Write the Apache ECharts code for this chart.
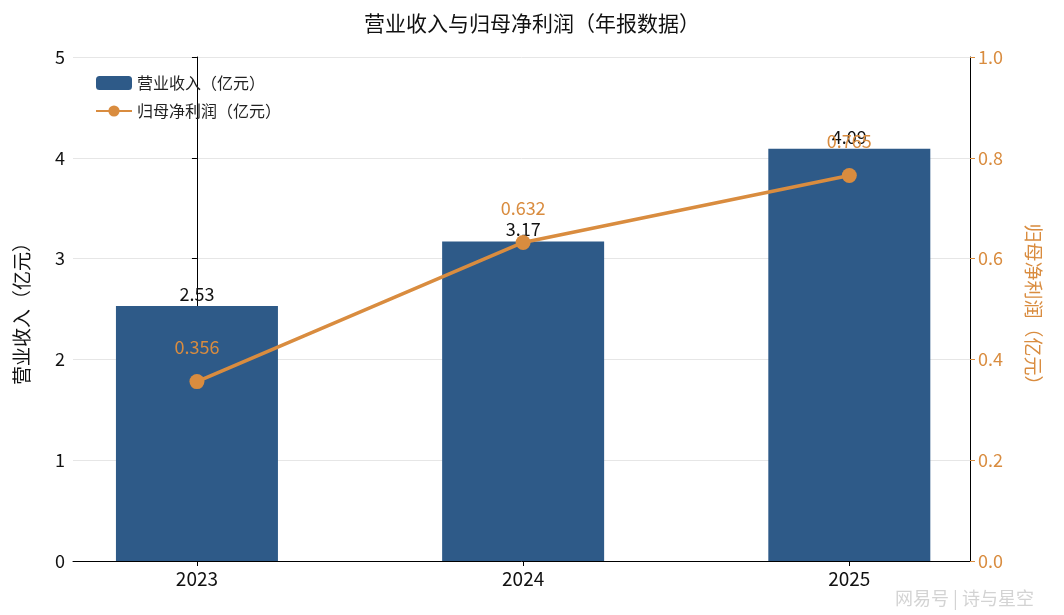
<!DOCTYPE html>
<html><head><meta charset="utf-8">
<script src="https://cdn.jsdelivr.net/npm/echarts@6/dist/echarts.min.js"></script>
<style>body{margin:0}#c{width:1064px;height:615px}</style></head>
<body><div id="c"></div>
<script>
var years = ['2023', '2024', '2025'];
var revenue = [2.53, 3.17, 4.09];
var profit = [0.356, 0.632, 0.765];

var font = '"Noto Sans CJK SC", sans-serif';
var orange = '#d98c3f';
var chart = echarts.init(document.getElementById('c'));
chart.setOption({
    textStyle: { fontFamily: font },
    title: { text: '营业收入与归母净利润（年报数据）', left: 'center', top: 8,
        textStyle: { fontSize: 21, fontWeight: 'normal', color: '#111', fontFamily: font } },
    legend: { left: 90, top: 70, orient: 'vertical', itemGap: 12, itemWidth: 36, itemHeight: 14,
        textStyle: { fontSize: 16, color: '#222' } },
    grid: { left: 73, right: 94, top: 57, bottom: 54 },
    xAxis: {
        type: 'value', min: -0.38, max: 2.37,
        axisLine: { show: true, lineStyle: { color: '#000' } },
        axisTick: { show: true, customValues: [0, 1, 2], lineStyle: { color: '#000' } },
        axisLabel: { customValues: [0, 1, 2], fontSize: 19, color: '#111',
            formatter: function (v) { return years[Math.round(v)]; } },
        splitLine: { show: false }
    },
    yAxis: [{
        type: 'value', min: 0, max: 5, interval: 1, name: '营业收入（亿元）',
        nameLocation: 'middle', nameGap: 42, nameTextStyle: { fontSize: 19, color: '#111' },
        axisLine: { show: true, lineStyle: { color: '#000' } },
        axisTick: { show: true }, axisLabel: { fontSize: 18, color: '#111' },
        splitLine: { lineStyle: { color: '#e6e6e6' } }
    }, {
        type: 'value', min: 0, max: 1, interval: 0.2, name: '归母净利润（亿元）',
        nameLocation: 'middle', nameGap: 54, nameRotate: -90,
        nameTextStyle: { fontSize: 19, color: orange },
        axisLine: { show: true, lineStyle: { color: '#000' } },
        axisTick: { show: true, lineStyle: { color: orange } },
        axisLabel: { fontSize: 18, color: orange, formatter: function (v) { return v.toFixed(1); } },
        splitLine: { show: false }
    }],
    series: [{
        name: '营业收入（亿元）', type: 'bar', barWidth: 162,
        itemStyle: { color: '#2e5a88' },
        data: revenue.map(function (v, i) { return [i, v]; }),
        label: { show: true, position: 'top', distance: 3, fontSize: 18, color: '#111',
            formatter: function (p) { return p.value[1].toFixed(2); } }
    }, {
        name: '归母净利润（亿元）', type: 'line', yAxisIndex: 1,
        symbol: 'circle', symbolSize: 15,
        lineStyle: { color: orange, width: 3.5 }, itemStyle: { color: orange },
        data: profit.map(function (v, i) { return [i, v]; }),
        label: { show: true, position: 'top', distance: 18, fontSize: 18, color: orange,
            formatter: function (p) { return p.value[1].toFixed(3); } },
        z: 5
    }],
    graphic: [{ type: 'text', right: 30, bottom: 8,
        style: { text: '网易号 | 诗与星空', fontSize: 18, fill: 'rgba(200,200,200,0.8)', fontFamily: font } }]
});
</script></body></html>
